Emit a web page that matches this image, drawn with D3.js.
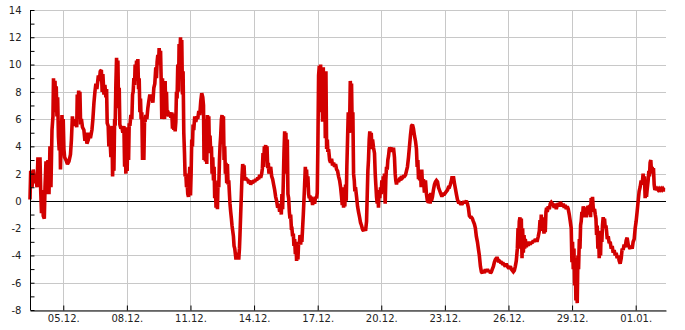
<!DOCTYPE html>
<html><head><meta charset="utf-8">
<script src="https://cdn.jsdelivr.net/npm/d3@7"></script>
<style>
html,body{margin:0;padding:0;background:#fff;}
svg{display:block;}
text{font-family:"DejaVu Sans",sans-serif;font-size:10px;fill:#222;}
</style></head><body>
<svg id="chart" width="685" height="330"></svg>
<script>
// hours since the start of the 30-day window (03.12. ~10:20)
const hours = [0,0.8,2.3,3.7,5.3,6.8,7.9,9.0,10.5,11.3,12.1,13.0,14.1,15.0,16.2,17.0,18.1,19.2,20.3,21.5,22.6,23.7,24.9,26.0,26.6,27.5,28.3,29.1,29.7,30.5,31.3,32.2,33.1,33.9,34.5,35.4,36.2,37.0,37.6,38.4,39.2,40.7,42.4,44.1,45.8,46.9,48.0,49.0,49.7,50.9,52.0,52.9,53.5,54.3,55.1,55.7,56.5,57.3,58.2,59.4,61.0,62.2,63.3,64.4,66.1,67.3,68.4,70.1,71.2,72.4,73.5,74.6,75.7,77.4,78.6,79.5,80.8,81.7,82.5,83.7,84.8,85.9,86.7,87.4,88.5,89.3,
90.4,91.6,92.7,93.5,94.2,95.0,95.8,96.4,97.2,98.0,98.7,99.5,100.3,101.0,101.7,102.9,104.0,105.1,106.3,107.1,107.7,108.5,109.3,110.0,110.8,111.6,112.3,113.1,114.2,115.3,116.1,116.8,117.6,118.4,119.0,119.8,120.6,121.3,122.1,122.9,123.6,124.4,125.1,125.8,126.6,127.4,128.1,128.9,129.7,130.3,131.1,132.3,133.4,134.5,135.7,136.8,137.9,139.1,140.2,141.3,142.4,143.2,143.9,144.7,145.5,146.2,147.0,147.8,148.4,149.2,150.0,150.7,151.5,152.3,153.0,153.7,154.5,155.2,156.0,157.1,158.3,159.4,160.5,161.3,162.0,162.8,163.6,164.3,165.1,165.8,166.5,167.3,168.1,168.8,169.6,170.4,171.0,171.8,172.6,173.3,174.1,174.9,175.6,176.4,177.2,177.8,178.6,179.4,180.1,
180.9,181.7,182.4,183.1,183.9,184.6,185.4,186.5,187.7,188.8,189.9,191.1,192.2,193.3,194.4,195.6,196.4,197.0,197.8,198.6,199.3,200.1,200.9,201.6,202.4,203.2,203.8,204.6,205.4,206.1,206.9,207.7,208.4,209.1,209.9,210.6,211.4,212.2,212.9,213.7,214.5,215.1,215.9,216.7,217.4,218.2,219.0,219.7,220.4,221.2,221.9,222.7,223.5,224.2,225.0,225.8,226.4,227.2,228.0,228.7,229.5,230.3,231.0,231.8,232.5,233.2,234.0,234.8,235.5,236.3,237.1,237.7,238.5,239.3,240.0,240.8,241.6,242.3,243.1,244.2,245.3,246.4,247.6,248.7,249.8,251.0,252.1,253.2,254.4,255.5,256.6,257.8,258.9,260.0,261.1,262.3,263.1,263.8,264.5,265.3,266.0,266.8,267.6,268.3,269.1,269.8,270.5,
271.3,272.5,273.6,274.7,275.8,277.0,278.1,279.2,280.4,281.5,282.6,283.8,284.5,285.2,286.0,286.8,287.5,288.3,289.1,289.7,290.5,291.3,292.0,292.8,293.6,294.3,295.1,295.9,296.5,297.3,298.1,298.8,299.6,300.4,301.1,301.8,302.6,303.3,304.1,304.9,305.6,306.4,307.2,307.8,308.6,309.4,310.1,310.9,311.7,312.4,313.1,313.9,314.6,315.4,316.2,316.9,317.7,318.8,319.9,321.1,322.2,323.3,324.5,325.2,325.9,326.7,327.5,328.2,329.0,329.8,330.4,331.2,332.0,332.7,333.5,334.3,335.0,335.8,336.6,337.2,338.0,339.2,340.3,341.4,342.5,343.7,344.8,345.9,347.1,348.2,349.3,350.5,351.6,352.7,353.5,354.2,355.0,355.8,356.4,357.2,358.0,358.7,359.5,360.3,361.0,
361.8,362.6,363.2,364.0,364.8,365.5,366.3,367.1,367.8,368.5,369.7,370.8,371.9,373.1,374.2,375.3,376.5,377.6,378.7,379.9,381.0,381.8,382.5,383.2,384.0,384.7,385.5,386.3,387.0,387.8,388.9,390.0,390.8,391.5,392.3,393.1,393.8,394.5,395.3,396.0,396.8,397.6,398.3,399.1,399.9,400.5,401.3,402.1,402.8,403.6,404.4,405.1,405.9,406.7,407.3,408.1,409.2,410.4,411.5,412.6,413.4,414.1,414.9,416.0,417.2,418.3,419.4,420.5,421.7,422.8,423.9,425.1,426.2,427.3,428.5,429.6,430.7,431.9,433.0,434.1,435.2,436.4,437.5,438.3,439.1,439.8,440.6,441.2,442.0,442.8,443.5,444.3,445.4,446.5,447.7,448.8,449.9,451.1,
452.2,453.0,453.7,454.5,455.6,456.7,457.9,459.0,460.1,461.3,462.4,463.5,464.6,465.8,466.9,468.0,469.2,470.3,471.4,472.6,473.7,474.8,475.9,477.1,477.9,478.6,479.3,480.5,481.6,482.7,483.9,485.0,486.1,487.2,488.4,489.5,490.6,491.8,492.9,494.0,495.2,496.3,497.4,498.6,499.7,500.8,501.9,503.1,504.2,505.3,506.5,507.6,508.7,509.9,511.0,512.1,513.2,514.4,515.5,516.6,517.8,518.9,520.0,521.2,522.3,523.4,524.6,525.7,526.8,527.9,529.1,530.2,531.3,532.5,533.6,534.7,535.9,537.0,538.1,539.2,540.4,541.5,
542.6,543.8,544.9,546.0,547.2,548.3,549.4,550.5,551.7,552.5,553.2,553.9,554.7,555.4,556.2,557.0,557.7,558.5,559.3,560.0,560.7,561.9,563.0,564.1,565.3,566.4,567.5,568.6,569.8,570.9,572.0,573.2,574.3,575.4,576.6,577.4,578.0,578.8,579.6,580.4,581.1,581.9,582.6,583.3,584.1,584.8,585.6,586.7,587.9,589.0,590.1,591.3,592.4,593.5,594.6,595.8,596.9,598.0,599.2,600.3,601.4,602.6,603.7,604.8,605.9,607.1,608.2,609.3,610.5,611.6,612.7,613.5,614.2,615.0,615.8,616.5,617.3,618.0,618.7,619.5,620.3,621.0,621.9,622.6,623.3,624.0,624.8,625.5,626.3,627.4,628.6,629.7,630.8,632.0,
633.1,633.9,634.6,635.3,636.1,636.8,637.6,638.4,639.1,639.9,640.7,641.4,642.1,642.9,643.6,644.4,645.2,645.9,646.6,647.4,648.1,648.9,649.7,650.4,651.2,652.0,652.7,653.5,654.6,655.7,656.8,658.0,659.1,660.2,661.3,662.5,663.6,664.7,665.9,667.0,668.1,669.3,670.4,671.5,672.6,673.8,674.9,676.0,677.2,678.3,679.4,680.6,681.7,682.8,684.0,685.1,686.2,687.3,688.5,689.6,690.7,691.9,693.0,694.1,694.9,695.6,696.4,697.2,697.9,698.6,699.8,700.6,701.3,702.0,702.8,703.5,704.3,705.1,705.8,706.6,707.4,708.0,708.8,709.9,711.1,712.2,713.3,714.5,715.6,716.7,717.9,719.0];

// temperature values (°C)
const temps = [0.1,2.2,1.0,2.3,1.3,1.8,1.0,3.2,1.5,3.2,0.8,-0.9,0.8,-1.1,-1.3,1.0,2.9,0.5,3.0,0.5,4.0,1.0,5.2,6.2,9.0,6.5,8.8,7.0,8.4,6.2,7.6,4.7,3.7,5.5,2.3,4.8,6.3,4.0,6.0,3.8,3.2,3.0,2.7,2.9,3.4,4.5,6.2,5.5,6.0,5.5,6.0,5.4,7.8,6.5,8.1,6.8,8.0,5.6,6.0,5.4,5.2,4.4,5.0,4.2,4.5,5.0,4.6,5.2,6.0,7.2,8.0,8.6,8.2,9.2,8.8,9.5,9.6,8.0,9.3,7.8,8.5,7.6,8.2,5.7,5.5,4.0,
4.8,3.2,5.5,1.8,4.0,2.2,6.0,5.5,8.5,10.5,7.0,10.3,6.8,8.3,5.6,5.3,5.4,5.0,5.5,2.5,5.4,2.0,5.3,2.2,5.4,3.0,5.7,5.5,6.3,6.0,7.8,8.0,9.0,8.5,10.0,9.0,10.3,8.8,10.4,8.2,9.0,6.5,7.5,6.0,6.5,3.0,5.8,3.0,6.0,5.8,6.3,6.0,6.8,7.3,7.8,7.4,7.8,7.2,8.3,8.6,9.8,9.0,10.2,10.7,10.0,11.2,10.5,11.0,9.2,6.0,9.0,6.5,8.6,6.0,8.8,6.3,8.0,6.2,6.6,6.2,6.5,6.1,6.5,5.3,6.4,5.2,6.2,5.1,5.8,8.0,7.5,10.0,8.0,11.5,10.5,12.0,9.0,11.8,7.8,9.5,5.0,3.5,1.8,2.0,1.0,1.5,0.5,0.3,1.5,
2.5,0.4,2.0,4.5,4.0,5.6,5.2,6.2,5.8,6.2,6.0,6.6,6.3,7.3,7.9,7.6,7.0,3.0,5.5,2.9,6.0,2.7,6.3,4.0,6.2,3.5,4.8,3.5,4.0,2.0,3.2,1.5,2.5,0.2,1.2,-0.5,0.8,-0.6,1.5,1.0,3.0,4.0,4.8,6.0,6.3,5.5,6.2,3.0,4.0,2.0,2.8,1.3,2.7,1.2,1.5,0.5,-0.2,-0.8,-1.3,-1.8,-2.2,-2.6,-3.3,-3.5,-3.9,-4.3,-3.8,-4.3,-3.9,-4.3,-3.5,-2.5,-1.0,0.5,1.8,2.7,2.3,2.6,1.5,1.7,1.5,1.6,1.3,1.5,1.2,1.4,1.3,1.5,1.4,1.6,1.5,1.7,1.6,1.9,1.7,2.0,2.4,3.5,2.5,4.0,3.5,4.1,3.2,4.0,2.4,2.8,2.0,
2.2,2.5,1.8,1.6,1.2,0.8,0.3,0.0,-0.5,-0.2,-0.8,-0.3,-1.0,0.5,-0.6,1.5,3.5,5.1,3.0,5.0,2.0,4.5,0.5,0.2,-0.8,-1.3,-1.0,-2.0,-2.0,-2.6,-2.4,-3.3,-2.8,-3.9,-3.0,-4.4,-3.3,-4.3,-3.0,-3.2,-2.5,-3.2,-2.5,-3.0,-2.0,-1.0,0.0,1.2,2.5,1.5,2.3,1.0,1.8,0.5,0.2,0.4,0.0,0.3,-0.3,0.2,-0.2,0.3,0.2,0.6,4.0,9.2,9.9,7.0,10.0,6.5,9.8,5.8,9.8,6.5,9.5,4.6,9.5,3.8,4.5,3.6,3.8,3.0,2.8,3.1,2.6,2.8,2.5,2.7,2.3,2.2,1.8,1.5,1.0,0.3,-0.3,1.0,-0.5,0.5,-0.4,1.2,0.0,2.5,4.5,6.5,5.0,
5.5,8.8,7.5,8.6,5.0,6.5,2.0,1.5,0.7,1.0,0.3,-0.4,-0.8,-1.2,-1.6,-1.8,-2.1,-2.2,-2.0,-2.2,-1.5,0.5,2.2,3.0,4.5,5.1,3.8,5.0,4.0,4.5,3.9,3.5,2.0,1.2,0.3,-0.2,0.5,-0.5,0.8,0.2,1.0,0.5,1.5,0.8,1.8,0.8,2.0,-0.2,1.5,2.5,2.3,3.0,3.3,3.8,3.9,3.8,3.9,3.6,3.9,3.2,2.0,1.5,1.2,1.6,1.4,1.6,1.6,1.8,1.7,1.8,1.8,1.9,2.2,2.5,3.2,4.0,4.8,5.5,5.6,5.3,4.8,4.4,3.8,2.5,3.0,1.6,2.3,1.5,2.3,1.0,2.3,1.2,1.6,0.6,1.5,0.5,0.0,-0.1,
0.5,-0.2,0.6,0.0,0.3,0.8,1.2,1.4,1.5,1.4,1.0,0.8,0.6,0.4,0.4,0.5,0.5,0.6,0.7,0.8,1.0,1.0,1.2,1.5,1.8,1.5,1.8,1.3,0.9,0.5,0.1,-0.1,-0.1,-0.2,-0.2,-0.2,-0.1,-0.1,-0.1,0.0,-0.2,-0.5,-1.1,-1.2,-1.2,-1.3,-1.5,-1.7,-2.0,-2.6,-3.0,-3.5,-4.0,-4.8,-5.2,-5.3,-5.1,-5.3,-5.0,-5.2,-5.0,-5.2,-5.1,-5.3,-5.2,-5.0,-4.8,-4.5,-4.3,-4.2,-4.2,-4.4,-4.4,-4.5,-4.5,-4.6,-4.6,-4.7,-4.8,-4.6,-4.8,-4.9,
-4.9,-4.8,-5.0,-5.1,-5.2,-5.1,-4.8,-4.4,-3.5,-2.0,-3.0,-1.5,-1.2,-3.5,-1.3,-4.2,-2.0,-3.8,-2.5,-3.5,-2.8,-3.4,-3.0,-3.3,-3.0,-3.2,-3.0,-3.1,-2.9,-3.0,-2.8,-2.9,-2.9,-2.6,-2.2,-1.4,-2.2,-1.0,-2.0,-1.2,-1.8,-2.4,-1.5,-2.3,-0.8,-0.5,-0.8,-0.4,-0.6,-0.2,-0.1,-0.2,-0.3,-0.5,-0.2,-0.6,-0.3,-0.2,-0.4,-0.1,-0.2,-0.4,-0.2,-0.5,-0.3,-0.6,-0.4,-0.6,-1.0,-1.5,-2.0,-4.5,-3.0,-5.0,-3.5,-6.2,-4.2,-7.3,-6.0,-7.5,-4.0,-5.0,-2.8,-3.5,-1.8,-1.5,-0.8,-1.2,-0.4,-0.9,-0.5,-1.2,-0.5,-0.4,
-1.0,-0.3,-1.2,0.2,-0.8,0.3,-0.5,-0.7,-0.6,-1.0,-1.3,-2.5,-1.8,-3.5,-2.2,-4.2,-3.0,-4.0,-2.2,-3.0,-1.8,-1.2,-1.5,-1.3,-2.0,-1.8,-2.2,-2.8,-2.6,-3.1,-3.0,-3.5,-3.3,-3.8,-3.6,-4.0,-3.8,-4.2,-4.0,-4.4,-4.6,-4.2,-3.5,-3.6,-3.2,-3.4,-2.9,-2.7,-3.2,-3.4,-3.5,-3.3,-3.5,-3.0,-2.8,-2.0,-1.5,-0.8,0.0,0.7,1.0,1.5,1.2,2.0,1.2,1.8,0.2,1.0,0.3,0.8,1.5,2.2,1.8,2.8,3.0,2.2,2.5,2.0,2.4,1.2,0.8,1.0,0.8,0.9,0.8,0.9,0.8,0.9,0.8,0.9,0.8,0.8];

const yTicks = [-8,-6,-4,-2,0,2,4,6,8,10,12,14];
const xTickDates = ["05.12.","08.12.","11.12.","14.12.","17.12.","20.12.","23.12.","26.12.","29.12.","01.01."];
const yDomain = [-8, 14];

const start = new Date(2023, 11, 3, 10, 20);
const HOUR = 3600000;
const end = new Date(start.getTime() + 720 * HOUR);

const svg = d3.select("#chart");
const m = {left: 30, right: 19, top: 10, bottom: 20};
const W = 685, H = 330;

const x = d3.scaleTime().domain([start, end]).range([m.left, W - m.right]);
const y = d3.scaleLinear().domain(yDomain).range([H - m.bottom, m.top]);

const parseTick = s => {
  const [d, mo] = s.split(".").map(Number);
  return new Date(mo === 1 ? 2024 : 2023, mo - 1, d);
};
const xTickVals = xTickDates.map(parseTick);
const fmt = d3.timeFormat("%d.%m.");

// grid
const grid = svg.append("g");
grid.selectAll("line.hy").data(yTicks).join("line")
  .attr("x1", m.left).attr("x2", W - m.right)
  .attr("y1", d => Math.round(y(d)) + 0.5).attr("y2", d => Math.round(y(d)) + 0.5)
  .attr("stroke", "#c8c8c8").attr("stroke-width", 1);
grid.selectAll("line.vx").data(xTickVals).join("line")
  .attr("x1", d => Math.round(x(d)) + 0.5).attr("x2", d => Math.round(x(d)) + 0.5)
  .attr("y1", m.top).attr("y2", H - m.bottom)
  .attr("stroke", "#c8c8c8").attr("stroke-width", 1);

// zero line
svg.append("line")
  .attr("x1", m.left).attr("x2", W - m.right)
  .attr("y1", Math.round(y(0)) + 0.5).attr("y2", Math.round(y(0)) + 0.5)
  .attr("stroke", "#000").attr("stroke-width", 1);

// data line
const data = hours.map((h, i) => ({t: new Date(start.getTime() + h * HOUR), v: temps[i]}));
svg.append("path").datum(data)
  .attr("fill", "none").attr("stroke", "#d20000").attr("stroke-width", 3.6)
  .attr("stroke-linejoin", "miter").attr("stroke-miterlimit", 2)
  .attr("d", d3.line().x(d => x(d.t)).y(d => y(d.v)));

// y axis
const yAxis = d3.axisLeft(y).tickValues(d3.range(-8, 15, 1)).tickSize(-4)
  .tickFormat(d => d % 2 === 0 ? String(d).replace("−", "-") : "");
const gy = svg.append("g").attr("transform", `translate(${m.left + 0.5},0)`).call(yAxis);
gy.select(".domain").attr("stroke", "#000");
gy.selectAll(".tick line").attr("stroke", "#000");
gy.selectAll(".tick text").attr("x", -9).attr("dy", "0.34em")
  .style("font-family", "DejaVu Sans").style("font-size", "10px").attr("fill", "#222");
gy.selectAll(".domain").attr("d", `M0.5,${m.top}V${H - m.bottom}`).attr("transform", "translate(-0.5,0)");

// x axis
const xAxis = d3.axisBottom(x).tickValues(xTickVals).tickSize(-5).tickFormat(fmt).tickSizeOuter(0);
const gx = svg.append("g").attr("transform", `translate(0,${H - m.bottom + 0.5})`).call(xAxis);
gx.select(".domain").attr("stroke", "#000");
gx.selectAll(".tick line").attr("stroke", "#000");
gx.selectAll(".tick text").attr("y", 4).attr("dy", "0.71em")
  .style("font-family", "DejaVu Sans").style("font-size", "10px").attr("fill", "#222");
</script>
</body></html>
